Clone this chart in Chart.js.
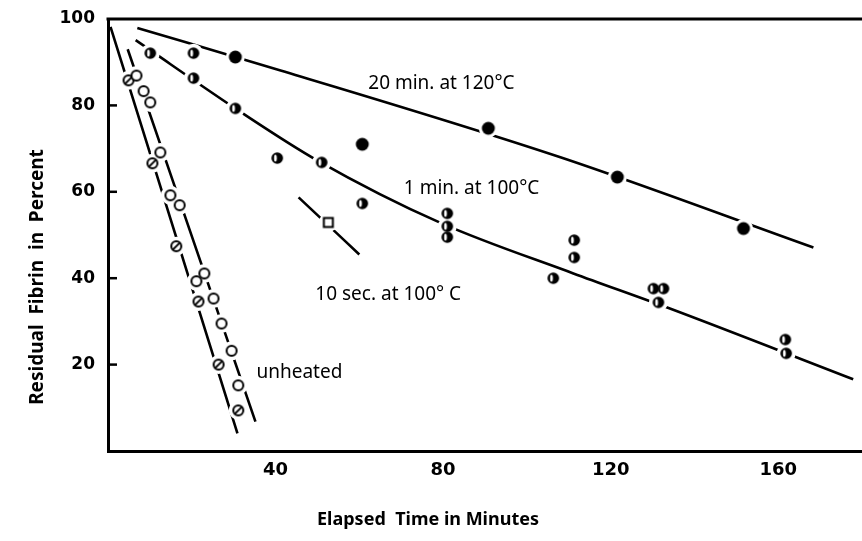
<!DOCTYPE html>
<html>
<head>
<meta charset="utf-8">
<script src="https://cdn.jsdelivr.net/npm/chart.js@4/dist/chart.umd.min.js"></script>
<style>
html, body { margin: 0; padding: 0; background: #fff; overflow: hidden; }
canvas { display: block; }
</style>
</head>
<body>
<canvas id="fibrinChart" width="862" height="541"></canvas>
<script>
// tick labels
var xTicks = [40, 80, 120, 160];
var yTicks = [20, 40, 60, 80, 100];

// 20 min. at 120°C (filled circles)
var min20X = [20.4, 30.4, 60.7, 90.8, 121.6, 151.7];
var min20Y = [92.1, 91.2, 71.0, 74.7, 63.4, 51.5];
// 1 min. at 100°C (half filled circles)
var min1X = [10.1, 20.4, 30.4, 40.4, 51.0, 60.7, 81.0, 81.0, 81.0, 106.3, 111.3, 111.3, 130.2, 132.6, 131.4, 161.7, 161.9];
var min1Y = [92.1, 86.3, 79.3, 67.8, 66.8, 57.3, 55.0, 52.0, 49.5, 40.0, 48.8, 44.8, 37.6, 37.6, 34.4, 25.8, 22.6];
// 10 sec. at 100°C (square)
var sec10X = [52.6];
var sec10Y = [52.9];
// unheated: open circles and slashed circles
var openX = [6.8, 8.5, 10.1, 12.5, 14.9, 17.1, 21.1, 23.0, 25.2, 27.1, 29.5, 31.1];
var openY = [86.9, 83.3, 80.7, 69.1, 59.2, 56.9, 39.3, 41.1, 35.3, 29.5, 23.2, 15.2];
var slashX = [4.9, 10.6, 16.3, 21.6, 26.4, 31.1];
var slashY = [85.8, 66.6, 47.4, 34.6, 20.0, 9.4];

// hand drawn lines through the points
var line20X = [7.0, 41.2, 108, 168.4];
var line20Y = [97.9, 88.1, 68.0, 47.1];
var line1X = [6.6, 32.1, 49.9, 79.4, 111.1, 133.5, 177.9];
var line1Y = [95.1, 78.2, 67.3, 52.8, 41.1, 33.2, 16.6];
var line10X = [45.5, 60.0];
var line10Y = [58.7, 45.5];
var lineSlashX = [0.6, 30.9];
var lineSlashY = [98.2, 4.1];
var lineOpenX = [4.7, 35.2];
var lineOpenY = [93.0, 6.8];

function pts(xs, ys) {
    return xs.map(function (x, i) { return { x: x, y: ys[i] }; });
}

// marker images
function makeMarker(kind) {
    var c = document.createElement('canvas');
    c.width = 16;
    c.height = 16;
    var g = c.getContext('2d');
    g.translate(8, 8);
    g.lineWidth = 2;
    g.strokeStyle = '#000';
    g.fillStyle = '#000';
    if (kind === 'filled') {
        g.beginPath(); g.arc(0, 0, 6.5, 0, 2 * Math.PI); g.fill();
    } else if (kind === 'half') {
        g.beginPath(); g.arc(0, 0, 5.8, 0, 2 * Math.PI); g.fill();
        g.fillStyle = '#fff';
        g.beginPath(); g.ellipse(-1.8, 0, 1.4, 3.6, 0, 0, 2 * Math.PI); g.fill();
    } else if (kind === 'open' || kind === 'slash') {
        g.fillStyle = '#fff';
        g.beginPath(); g.arc(0, 0, 5, 0, 2 * Math.PI); g.fill(); g.stroke();
        if (kind === 'slash') {
            g.beginPath(); g.moveTo(-3.4, 3.4); g.lineTo(3.4, -3.4); g.stroke();
        }
    } else if (kind === 'square') {
        g.fillStyle = '#fff';
        g.fillRect(-4.5, -4.5, 9, 9);
        g.strokeRect(-4.5, -4.5, 9, 9);
    }
    return c;
}
var mFilled = makeMarker('filled');
var mHalf = makeMarker('half');
var mOpen = makeMarker('open');
var mSlash = makeMarker('slash');
var mSquare = makeMarker('square');

function lineSet(xs, ys) {
    return {
        data: pts(xs, ys),
        showLine: true,
        borderColor: '#000',
        borderWidth: 2.6,
        pointRadius: 0,
        tension: 0.4,
        cubicInterpolationMode: 'monotone',
        order: 3
    };
}
function markSet(xs, ys, style) {
    return {
        data: pts(xs, ys),
        showLine: false,
        pointStyle: style,
        pointRadius: 7,
        order: 1
    };
}

// white rings under every point break the lines like in the drawing
var allX = min20X.concat(min1X, sec10X, openX, slashX);
var allY = min20Y.concat(min1Y, sec10Y, openY, slashY);

var notes = [
    { text: '20 min. at 120°C', x: 79.6, y: 85.1 },
    { text: '1 min. at 100°C', x: 86.8, y: 60.8 },
    { text: '10 sec. at 100° C', x: 66.9, y: 36.3 },
    { text: 'unheated', x: 45.7, y: 18.2 }
];

var extras = {
    id: 'extras',
    afterDraw: function (chart) {
        var c = chart.ctx, a = chart.chartArea;
        var xs = chart.scales.x, ys = chart.scales.y;
        c.save();
        c.strokeStyle = '#000';
        c.lineWidth = 3;
        c.beginPath(); c.moveTo(a.left - 1.5, a.top); c.lineTo(a.right, a.top); c.stroke();
        // inner ticks on the left axis
        c.lineWidth = 2.5;
        yTicks.forEach(function (v) {
            if (v >= 100) return;
            var py = ys.getPixelForValue(v);
            c.beginPath(); c.moveTo(a.left, py); c.lineTo(a.left + 9, py); c.stroke();
        });
        c.fillStyle = '#000';
        c.textAlign = 'center';
        c.textBaseline = 'middle';
        c.font = '19px "Noto Sans"';
        notes.forEach(function (n) {
            c.fillText(n.text, xs.getPixelForValue(n.x), ys.getPixelForValue(n.y));
        });
        c.font = 'bold 18px "Noto Sans"';
        c.fillText('Elapsed  Time in Minutes', 428, 520);
        c.translate(38, 277);
        c.rotate(-Math.PI / 2);
        c.font = 'bold 19px "Noto Sans"';
        c.fillText('Residual  Fibrin  in  Percent', 0, 0);
        c.restore();
    }
};

var ctx = document.getElementById('fibrinChart').getContext('2d');
var fibrinChart = new Chart(ctx, {
    type: 'scatter',
    data: {
        datasets: [
            lineSet(line20X, line20Y),
            lineSet(line1X, line1Y),
            lineSet(line10X, line10Y),
            lineSet(lineSlashX, lineSlashY),
            lineSet(lineOpenX, lineOpenY),
            {
                data: pts(allX, allY),
                showLine: false,
                pointStyle: 'circle',
                pointRadius: 9.5,
                pointBorderWidth: 0,
                pointBackgroundColor: '#fff',
                order: 2
            },
            markSet(min20X, min20Y, min20X.map(function (x, i) { return i === 0 ? mHalf : mFilled; })),
            markSet(min1X, min1Y, mHalf),
            markSet(sec10X, sec10Y, mSquare),
            markSet(openX, openY, mOpen),
            markSet(slashX, slashY, mSlash)
        ]
    },
    options: {
        responsive: false,
        animation: false,
        devicePixelRatio: 1,
        layout: { autoPadding: false, padding: { top: 19, left: 0, right: 0, bottom: 0 } },
        plugins: {
            legend: { display: false },
            tooltip: { enabled: false }
        },
        scales: {
            x: {
                type: 'linear',
                min: 0,
                max: 180,
                afterFit: function (s) { s.height = 90; s.paddingLeft = 0; s.paddingRight = 0; },
                afterBuildTicks: function (s) { s.ticks = xTicks.map(function (v) { return { value: v }; }); },
                grid: { display: false, drawTicks: false },
                border: { display: true, color: '#000', width: 3 },
                ticks: { color: '#000', padding: 9, maxRotation: 0, font: { family: 'DejaVu Sans', weight: 'bold', size: 18 } }
            },
            y: {
                type: 'linear',
                min: 0,
                max: 100,
                afterFit: function (s) { s.width = 108; s.paddingTop = 0; s.paddingBottom = 0; },
                afterBuildTicks: function (s) { s.ticks = yTicks.map(function (v) { return { value: v }; }); },
                grid: { display: false, drawTicks: false },
                border: { display: true, color: '#000', width: 3 },
                ticks: { color: '#000', padding: 13, font: { family: 'DejaVu Sans', weight: 'bold', size: 17 } }
            }
        }
    },
    plugins: [extras]
});
</script>
</body>
</html>
